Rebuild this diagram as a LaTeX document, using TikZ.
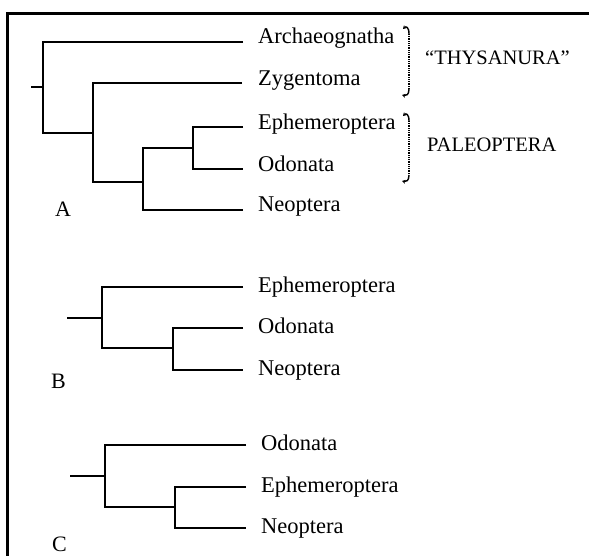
\documentclass[tikz,border=0pt]{standalone}
\usepackage{fontspec}
\setmainfont{Liberation Serif}
\usetikzlibrary{arrows.meta}
\begin{document}
\begin{tikzpicture}[x=1pt,y=-1pt,
  branch/.style={line width=2.6pt, line join=miter},
  frameline/.style={line width=2.7pt},
  leaf/.style={anchor=base west, inner sep=0pt, font=\fontsize{22.5}{26}\selectfont},
  grp/.style={anchor=base west, inner sep=0pt, font=\fontsize{20.5}{24}\selectfont},
  panel/.style={anchor=base west, inner sep=0pt, font=\fontsize{22}{26}\selectfont},
  dotline/.style={line width=1.4pt, dash pattern=on 0.9pt off 0.9pt},
  hookline/.style={line width=1.4pt, -{Stealth[length=3.5pt,width=4pt]}}]
\useasboundingbox (0,0) rectangle (589,556);
% frame
\coordinate (fbl) at (7.5,556);
\coordinate (ftl) at (7.5,13.5);
\coordinate (ftr) at (589,13.5);
\draw[frameline] (fbl) -- (ftl) -- (ftr);

% ---------- Tree A ----------
\coordinate (Ar) at (31,87);
\coordinate (Aj1) at (43,87);
\coordinate (Aj2) at (93,133);
\coordinate (Aj3) at (143,182);
\coordinate (Aj4) at (193,148);
\coordinate (Ae1) at (243,42);
\coordinate (Ae2) at (242,83);
\coordinate (Ae3) at (243,127);
\coordinate (Ae4) at (243,169);
\coordinate (Ae5) at (243,210);
\draw[branch] (Ar) -- (Aj1);
\draw[branch] (Ae1) -| (Aj1) |- (Aj2);
\draw[branch] (Ae2) -| (Aj2) |- (Aj3);
\draw[branch] (Ae5) -| (Aj3) |- (Aj4);
\draw[branch] (Ae3) -| (Aj4) |- (Ae4);
\node[leaf] (tA1) at (258,44) {Archaeognatha};
\node[leaf] (tA2) at (258,86) {Zygentoma};
\node[leaf] (tA3) at (258,130) {Ephemeroptera};
\node[leaf] (tA4) at (258,172) {Odonata};
\node[leaf] (tA5) at (258,212) {Neoptera};
\node[panel] (pA) at (55,217) {A};

% brackets
\coordinate (b1t) at (409,34);
\coordinate (b1b) at (409,89);
\coordinate (b1tt) at (403,29);
\coordinate (b1bb) at (402,95);
\draw[dotline] (b1t) -- (b1b);
\draw[hookline] (b1t) .. controls (409,27) and (406,26) .. (b1tt);
\draw[hookline] (b1b) .. controls (409,95) and (406,96) .. (b1bb);
\coordinate (b2t) at (409,121);
\coordinate (b2b) at (409,175);
\coordinate (b2tt) at (403,116);
\coordinate (b2bb) at (402,181);
\draw[dotline] (b2t) -- (b2b);
\draw[hookline] (b2t) .. controls (409,114) and (406,113) .. (b2tt);
\draw[hookline] (b2b) .. controls (409,181) and (406,182) .. (b2bb);
\node[grp] (g1) at (425,65) {“THYSANURA”};
\node[grp] (g2) at (427,152) {PALEOPTERA};

% ---------- Tree B ----------
\coordinate (Br) at (67,318);
\coordinate (Bj1) at (102,318);
\coordinate (Bj2) at (173,348);
\coordinate (Be1) at (243,287);
\coordinate (Be2) at (243,328);
\coordinate (Be3) at (243,370);
\draw[branch] (Br) -- (Bj1);
\draw[branch] (Be1) -| (Bj1) |- (Bj2);
\draw[branch] (Be2) -| (Bj2) |- (Be3);
\node[leaf] (tB1) at (258,292) {Ephemeroptera};
\node[leaf] (tB2) at (258,333) {Odonata};
\node[leaf] (tB3) at (258,375) {Neoptera};
\node[panel] (pB) at (51,388) {B};

% ---------- Tree C ----------
\coordinate (Cr) at (70,476);
\coordinate (Cj1) at (105,476);
\coordinate (Cj2) at (175,507);
\coordinate (Ce1) at (246,445);
\coordinate (Ce2) at (246,487);
\coordinate (Ce3) at (246,528);
\draw[branch] (Cr) -- (Cj1);
\draw[branch] (Ce1) -| (Cj1) |- (Cj2);
\draw[branch] (Ce2) -| (Cj2) |- (Ce3);
\node[leaf] (tC1) at (261,450) {Odonata};
\node[leaf] (tC2) at (261,492) {Ephemeroptera};
\node[leaf] (tC3) at (261,533) {Neoptera};
\node[panel] (pC) at (52,551) {C};
\end{tikzpicture}
\end{document}
